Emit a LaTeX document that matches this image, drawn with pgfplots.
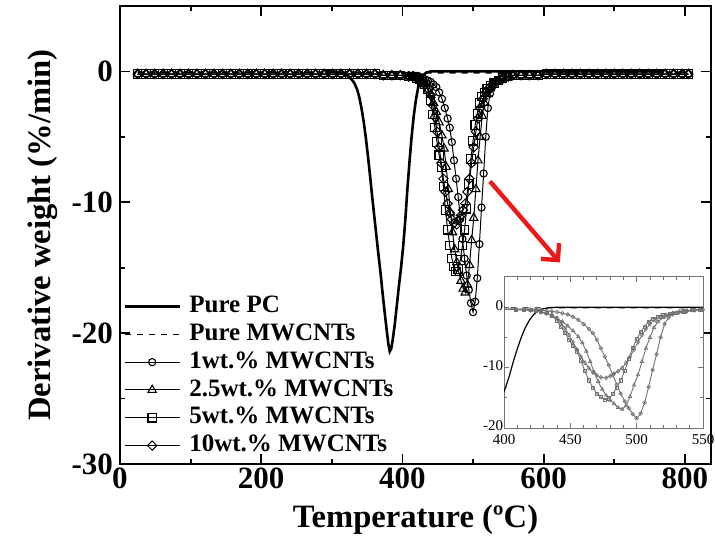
\documentclass[border=0pt]{standalone}
\usepackage{fontspec}
\setmainfont{Liberation Serif}
\usepackage{pgfplots}
\pgfplotsset{compat=1.18}
\usepackage{pgfplotstable}
\usetikzlibrary{arrows.meta}

\pgfplotstableread[row sep=\\]{
T y\\
290 0\\ 300 0\\ 310 -0.05\\ 316 -0.15\\ 320 -0.25\\ 324 -0.4\\ 328 -0.6\\ 332 -0.9\\ 336 -1.4\\ 339 -2.0\\ 342 -2.8\\ 345 -3.8\\ 348 -5.0\\ 351 -6.4\\ 354 -7.9\\ 357 -9.5\\ 360 -11.0\\ 363 -12.5\\ 366 -14.0\\ 369 -15.4\\ 372 -17.0\\ 375 -18.5\\ 378 -19.9\\ 380 -20.8\\ 382 -21.4\\ 384 -21.2\\ 386 -20.6\\ 389 -19.4\\ 392 -17.9\\ 395 -16.4\\ 398 -15.0\\ 401 -13.4\\ 404 -11.4\\ 407 -9.0\\ 410 -6.9\\ 413 -5.0\\ 416 -3.4\\ 419 -2.2\\ 422 -1.3\\ 425 -0.7\\ 429 -0.3\\ 434 -0.08\\ 440 0\\ 500 0\\ 600 0\\ 700 0\\ 770 0\\
}\dataPC

\pgfplotstableread[row sep=\\]{
T y\\
25 -0.05\\ 100 -0.05\\ 200 -0.05\\ 300 -0.05\\ 400 -0.1\\ 450 -0.1\\ 500 -0.1\\ 550 -0.1\\ 600 -0.05\\ 700 -0.05\\ 800 -0.05\\
}\dataMW

\pgfplotstableread[row sep=\\]{
T y\\
25 -0.2\\ 37 -0.2\\ 49 -0.2\\ 61 -0.2\\ 73 -0.2\\ 85 -0.2\\ 97 -0.2\\ 109 -0.2\\ 121 -0.2\\ 133 -0.2\\ 145 -0.2\\ 157 -0.2\\ 169 -0.2\\ 181 -0.2\\ 193 -0.2\\ 205 -0.2\\ 217 -0.2\\ 229 -0.2\\ 241 -0.2\\ 253 -0.2\\ 265 -0.2\\ 277 -0.2\\ 289 -0.2\\ 301 -0.2\\ 313 -0.2\\ 325 -0.2\\ 337 -0.2\\ 349 -0.2\\ 361 -0.2\\ 373 -0.3\\ 385 -0.3\\ 397 -0.3\\ 409 -0.3\\
415 -0.3\\ 420 -0.4\\ 424 -0.4\\ 428 -0.5\\ 432 -0.6\\ 436 -0.7\\ 440 -0.8\\ 444 -1.0\\ 448 -1.2\\ 452 -1.6\\ 456 -2.1\\ 460 -2.8\\ 464 -3.6\\ 467 -4.3\\ 470 -5.4\\ 473 -6.8\\ 476 -8.2\\ 479 -9.6\\ 482 -11.2\\ 485 -12.8\\ 488 -14.3\\ 491 -15.6\\ 494 -16.7\\ 497 -17.7\\ 500 -18.4\\ 503 -17.6\\ 506 -15.8\\ 509 -13.2\\ 512 -10.4\\ 515 -7.8\\ 518 -5.0\\ 521 -2.8\\ 524 -1.7\\ 527 -1.2\\ 530 -0.9\\ 534 -0.7\\ 538 -0.6\\ 542 -0.5\\ 548 -0.4\\
556 -0.3\\ 568 -0.3\\ 580 -0.3\\ 592 -0.3\\ 604 -0.2\\ 616 -0.2\\ 628 -0.2\\ 640 -0.2\\ 652 -0.2\\ 664 -0.2\\ 676 -0.2\\ 688 -0.2\\ 700 -0.2\\ 712 -0.2\\ 724 -0.2\\ 736 -0.2\\ 748 -0.2\\ 760 -0.2\\ 772 -0.2\\ 784 -0.2\\ 796 -0.2\\ 805 -0.2\\
}\dataOne

\pgfplotstableread[row sep=\\]{
T y\\
25 -0.2\\ 37 -0.2\\ 49 -0.2\\ 61 -0.2\\ 73 -0.2\\ 85 -0.2\\ 97 -0.2\\ 109 -0.2\\ 121 -0.2\\ 133 -0.2\\ 145 -0.2\\ 157 -0.2\\ 169 -0.2\\ 181 -0.2\\ 193 -0.2\\ 205 -0.2\\ 217 -0.2\\ 229 -0.2\\ 241 -0.2\\ 253 -0.2\\ 265 -0.2\\ 277 -0.2\\ 289 -0.2\\ 301 -0.2\\ 313 -0.2\\ 325 -0.2\\ 337 -0.2\\ 349 -0.2\\ 361 -0.2\\ 373 -0.3\\ 385 -0.3\\ 397 -0.3\\ 409 -0.4\\
415 -0.4\\ 420 -0.5\\ 424 -0.6\\ 428 -0.8\\ 432 -1.0\\ 436 -1.4\\ 440 -1.8\\ 444 -2.4\\ 448 -3.1\\ 452 -3.9\\ 456 -4.9\\ 459 -5.9\\ 462 -7.3\\ 465 -9.0\\ 468 -10.8\\ 471 -12.3\\ 474 -13.6\\ 477 -14.6\\ 480 -15.4\\ 483 -16.0\\ 486 -16.6\\ 489 -16.9\\ 492 -16.3\\ 495 -14.8\\ 498 -12.9\\ 501 -11.2\\ 504 -9.0\\ 507 -6.8\\ 510 -5.0\\ 513 -3.4\\ 516 -2.4\\ 520 -1.7\\ 524 -1.3\\ 528 -1.0\\ 532 -0.8\\ 536 -0.7\\ 542 -0.5\\ 548 -0.4\\
556 -0.3\\ 568 -0.3\\ 580 -0.3\\ 592 -0.3\\ 604 -0.2\\ 616 -0.2\\ 628 -0.2\\ 640 -0.2\\ 652 -0.2\\ 664 -0.2\\ 676 -0.2\\ 688 -0.2\\ 700 -0.2\\ 712 -0.2\\ 724 -0.2\\ 736 -0.2\\ 748 -0.2\\ 760 -0.2\\ 772 -0.2\\ 784 -0.2\\ 796 -0.2\\ 805 -0.2\\
}\dataTwo

\pgfplotstableread[row sep=\\]{
T y\\
25 -0.2\\ 37 -0.2\\ 49 -0.2\\ 61 -0.2\\ 73 -0.2\\ 85 -0.2\\ 97 -0.2\\ 109 -0.2\\ 121 -0.2\\ 133 -0.2\\ 145 -0.2\\ 157 -0.2\\ 169 -0.2\\ 181 -0.2\\ 193 -0.2\\ 205 -0.2\\ 217 -0.2\\ 229 -0.2\\ 241 -0.2\\ 253 -0.2\\ 265 -0.2\\ 277 -0.2\\ 289 -0.2\\ 301 -0.2\\ 313 -0.2\\ 325 -0.2\\ 337 -0.2\\ 349 -0.2\\ 361 -0.2\\ 373 -0.3\\ 385 -0.3\\ 397 -0.3\\ 409 -0.4\\
415 -0.4\\ 420 -0.5\\ 424 -0.6\\ 428 -0.8\\ 432 -1.0\\ 436 -1.4\\ 440 -2.2\\ 443 -3.3\\ 446 -4.3\\ 449 -5.4\\ 452 -6.4\\ 455 -7.3\\ 458 -8.8\\ 461 -10.6\\ 464 -12.1\\ 467 -13.3\\ 470 -14.3\\ 473 -14.9\\ 476 -15.3\\ 479 -15.1\\ 482 -14.4\\ 485 -13.3\\ 488 -12.1\\ 491 -10.5\\ 494 -8.6\\ 497 -6.7\\ 500 -5.3\\ 503 -4.1\\ 506 -3.2\\ 509 -2.4\\ 512 -1.9\\ 516 -1.6\\ 520 -1.3\\ 525 -1.1\\ 530 -0.9\\ 536 -0.7\\ 542 -0.5\\ 548 -0.4\\
556 -0.3\\ 568 -0.3\\ 580 -0.3\\ 592 -0.3\\ 604 -0.2\\ 616 -0.2\\ 628 -0.2\\ 640 -0.2\\ 652 -0.2\\ 664 -0.2\\ 676 -0.2\\ 688 -0.2\\ 700 -0.2\\ 712 -0.2\\ 724 -0.2\\ 736 -0.2\\ 748 -0.2\\ 760 -0.2\\ 772 -0.2\\ 784 -0.2\\ 796 -0.2\\ 805 -0.2\\
}\dataFive

\pgfplotstableread[row sep=\\]{
T y\\
25 -0.2\\ 37 -0.2\\ 49 -0.2\\ 61 -0.2\\ 73 -0.2\\ 85 -0.2\\ 97 -0.2\\ 109 -0.2\\ 121 -0.2\\ 133 -0.2\\ 145 -0.2\\ 157 -0.2\\ 169 -0.2\\ 181 -0.2\\ 193 -0.2\\ 205 -0.2\\ 217 -0.2\\ 229 -0.2\\ 241 -0.2\\ 253 -0.2\\ 265 -0.2\\ 277 -0.2\\ 289 -0.2\\ 301 -0.2\\ 313 -0.2\\ 325 -0.2\\ 337 -0.2\\ 349 -0.2\\ 361 -0.2\\ 373 -0.3\\ 385 -0.3\\ 397 -0.3\\ 409 -0.4\\
415 -0.4\\ 420 -0.5\\ 424 -0.6\\ 428 -0.8\\ 432 -1.0\\ 436 -1.3\\ 440 -1.8\\ 443 -2.6\\ 446 -3.5\\ 449 -4.6\\ 452 -5.8\\ 455 -7.0\\ 458 -8.2\\ 461 -9.2\\ 464 -10.1\\ 467 -10.8\\ 470 -11.3\\ 473 -11.6\\ 477 -11.7\\ 480 -11.4\\ 483 -11.0\\ 486 -10.6\\ 489 -10.1\\ 492 -9.2\\ 495 -8.2\\ 498 -7.0\\ 501 -5.8\\ 504 -4.6\\ 507 -3.6\\ 510 -2.8\\ 514 -2.1\\ 518 -1.6\\ 522 -1.3\\ 527 -1.0\\ 532 -0.8\\ 538 -0.6\\ 544 -0.5\\ 550 -0.4\\
556 -0.3\\ 568 -0.3\\ 580 -0.3\\ 592 -0.3\\ 604 -0.2\\ 616 -0.2\\ 628 -0.2\\ 640 -0.2\\ 652 -0.2\\ 664 -0.2\\ 676 -0.2\\ 688 -0.2\\ 700 -0.2\\ 712 -0.2\\ 724 -0.2\\ 736 -0.2\\ 748 -0.2\\ 760 -0.2\\ 772 -0.2\\ 784 -0.2\\ 796 -0.2\\ 805 -0.2\\
}\dataTen

\definecolor{insetgray}{RGB}{115,115,115}
\definecolor{arrowred}{RGB}{235,25,25}

\begin{document}
\begin{tikzpicture}
\useasboundingbox (0,0) rectangle (357.5pt,273pt);
\begin{axis}[
  at={(60pt,41pt)}, anchor=south west,
  scale only axis, width=295.5pt, height=229pt,
  xmin=0, xmax=837, ymin=-30, ymax=5,
  xtick={0,200,400,600,800}, xticklabels={0,200,400,600,800},
  ytick={-30,-20,-10,0}, yticklabels={-30,-20,-10,0},
  minor x tick num=1, minor y tick num=1,
  tick align=inside, major tick length=5pt, minor tick length=2.5pt,
  axis line style={line width=1pt},
  every tick/.style={black, line width=0.9pt},
  ticklabel style={font=\fontsize{15.5}{15.5}\selectfont\bfseries},
  xticklabel style={inner sep=1.5pt},
  xlabel={Temperature (ºC)},
  ylabel={Derivative weight (\%/min)},
  label style={font=\fontsize{16.3}{17}\selectfont\bfseries},
  xlabel style={yshift=-3pt},
  legend cell align=left,
  legend style={draw=none, fill=none, at={(0.005,0.375)}, anchor=north west,
    font=\fontsize{12.5}{13}\selectfont\bfseries, inner sep=0pt, row sep=0pt, column sep=3pt,
    nodes={inner sep=1.2pt, text height=8.8pt, text depth=2.7pt}},
  legend image code/.code={\draw[mark repeat=2,mark phase=2,#1] plot coordinates {(0pt,0pt) (13.75pt,0pt) (27.5pt,0pt)};},
  comp/.style={black, line width=0.5pt, mark options={solid, fill=white, line width=0.55pt}},
]
\addplot[black, line width=1.3pt] table {\dataPC};
\addlegendentry{Pure PC}
\addplot[black, line width=0.8pt, dashed] table {\dataMW};
\addlegendentry{Pure MWCNTs}
\addplot[comp, mark=o, mark size=1.8pt] table {\dataOne};
\addlegendentry{1wt.\% MWCNTs}
\addplot[comp, mark=triangle, mark size=2.4pt] table {\dataTwo};
\addlegendentry{2.5wt.\% MWCNTs}
\addplot[comp, mark=square, mark size=2.1pt] table {\dataFive};
\addlegendentry{5wt.\% MWCNTs}
\addplot[comp, mark=diamond, mark size=2.3pt, mark options={xscale=1.35}] table {\dataTen};
\addlegendentry{10wt.\% MWCNTs}
\draw[arrowred, line width=2.2pt, -{Straight Barb[length=6pt,width=12pt]}] (axis cs:524,-8.4) -- (axis cs:623,-14.6);
\end{axis}

\begin{axis}[
  at={(252pt,59pt)}, anchor=south west,
  scale only axis, width=99.5pt, height=75.5pt,
  xmin=400, xmax=550, ymin=-20, ymax=5,
  xtick={400,450,500,550}, xticklabels={400,450,500,550},
  ytick={-20,-10,0}, yticklabels={-20,-10,0},
  minor x tick num=4, minor y tick num=1,
  tick align=inside, major tick length=2.5pt, minor tick length=1.5pt,
  axis background/.style={fill=white},
  axis line style={line width=0.5pt, insetgray},
  every tick/.style={insetgray, line width=0.4pt},
  ticklabel style={font=\fontsize{7.5}{7.5}\selectfont, inner sep=0.8pt},
  xticklabel style={yshift=-2.5pt},
  yticklabel style={xshift=0.5pt, yshift=1pt},
  ins/.style={insetgray, line width=0.45pt, mark options={solid, fill=white, line width=0.35pt}},
]
\addplot[black, line width=0.6pt] table {\dataPC};
\addplot[black, line width=0.5pt, dashed] table {\dataMW};
\addplot[ins, mark=o, mark size=0.9pt] table {\dataOne};
\addplot[ins, mark=triangle, mark size=1pt] table {\dataTwo};
\addplot[ins, mark=square, mark size=0.8pt] table {\dataFive};
\addplot[ins, mark=diamond, mark size=1pt] table {\dataTen};
\end{axis}
\end{tikzpicture}
\end{document}
